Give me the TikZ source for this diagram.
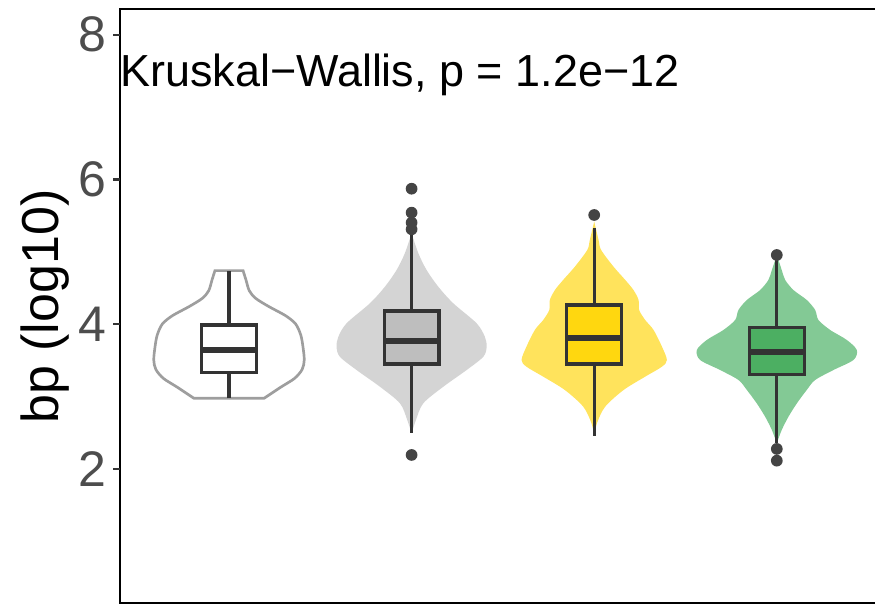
\documentclass[tikz,border=0pt]{standalone}
\usepackage{fontspec}
\setmainfont{Liberation Sans}

\definecolor{boxline}{HTML}{333333}
\definecolor{outlr}{HTML}{444444}
\definecolor{ticklab}{HTML}{4D4D4D}
\definecolor{violwhite}{HTML}{9E9E9E}
\definecolor{violgray}{HTML}{D4D4D4}
\definecolor{boxgray}{HTML}{BEBEBE}
\definecolor{violgold}{HTML}{FFE35C}
\definecolor{boxgold}{HTML}{FFD70F}
\definecolor{violgreen}{HTML}{83C995}
\definecolor{boxgreen}{HTML}{4CAF62}

\tikzset{
  whisk/.style={draw=boxline,line width=2.3pt},
  boxbody/.style={draw=boxline,line width=2.4pt},
  medline/.style={draw=boxline,line width=4.3pt},
  outlier/.style={fill=outlr},
  tickmk/.style={draw=boxline,line width=1.7pt},
  ticklbl/.style={text=ticklab,inner sep=0pt,font=\fontsize{37.5}{40}\selectfont},
}

% x, lower whisker, q1, median, q3, upper whisker, box fill
\newcommand{\boxplt}[7]{
  \draw[whisk] (#1,#2) -- (#1,#3);
  \draw[whisk] (#1,#5) -- (#1,#6);
  \filldraw[boxbody,fill=#7] (#1-0.15,#3) rectangle (#1+0.15,#5);
  \draw[medline] (#1-0.15,#4) -- (#1+0.15,#4);
}

\begin{document}
\begin{tikzpicture}
[x=136.95pt,y=54.26pt]
\useasboundingbox (-0.2541,0.1175) rectangle (4.5378,8.4796);

% panel
\draw[line width=1.9pt] (4.5378,8.356) -- (0.403,8.356) -- (0.403,0.145) -- (4.5378,0.145);

\foreach \v in {2,4,6,8}
{
  \draw[tickmk] (0.365,\v) -- (0.403,\v);
  \node[ticklbl,anchor=east] (tick\v) at (0.332,\v) {\v};
}

\node[rotate=90,inner sep=0pt,font=\fontsize{39}{42}\selectfont] (ylab) at (-0.008,4.243) {bp (log10)};
\node[anchor=base west,inner sep=0pt,font=\fontsize{33.7}{38}\selectfont] (kwtest) at (0.403,7.277) {Kruskal−Wallis, p = 1.2e−12};

% violins
\begin{scope}[shift={(1,0)}]
\foreach \s in {1,-1}
  \draw[violwhite,line width=2pt,xscale=\s] (0,4.739) -- plot[smooth] coordinates {(0.077,4.739) (0.093,4.610) (0.111,4.462)
    (0.146,4.356) (0.219,4.241) (0.310,4.116) (0.365,4.001) (0.393,3.849) (0.405,3.688) (0.412,3.504)
    (0.401,3.375) (0.360,3.251) (0.283,3.127) (0.192,2.974)} -- (0,2.974);
\end{scope}

\begin{scope}[shift={(2,0)}]
\foreach \s in {1,-1}
  \fill[violgray,xscale=\s] plot[smooth] coordinates {(0,5.255) (0.037,4.979) (0.082,4.748) (0.146,4.517)
    (0.228,4.288) (0.356,4.011) (0.401,3.826) (0.411,3.688) (0.393,3.549) (0.301,3.364) (0.174,3.135)
    (0.064,2.905) (0.024,2.675) (0,2.491)};
\end{scope}

\begin{scope}[shift={(3,0)}]
\foreach \s in {1,-1}
  \fill[violgold,xscale=\s] plot[smooth] coordinates {(0,5.416) (0.024,5.162) (0.038,5.024) (0.106,4.793)
    (0.170,4.610) (0.215,4.471) (0.243,4.333) (0.246,4.195) (0.279,4.057) (0.325,3.919) (0.371,3.688)
    (0.398,3.504) (0.371,3.411) (0.279,3.273) (0.161,3.089) (0.060,2.858) (0.015,2.629) (0,2.453)};
\end{scope}

\begin{scope}[shift={(4,0)}]
\foreach \s in {1,-1}
  \fill[violgreen,xscale=\s] plot[smooth] coordinates {(0,4.955) (0.027,4.748) (0.046,4.610) (0.091,4.471)
    (0.164,4.333) (0.210,4.195) (0.228,4.057) (0.292,3.919) (0.383,3.781) (0.438,3.642) (0.420,3.504)
    (0.311,3.366) (0.210,3.227) (0.164,3.089) (0.110,2.905) (0.064,2.720) (0.027,2.536) (0,2.352)};
\end{scope}

% boxes
\boxplt{1}{2.974}{3.328}{3.642}{3.988}{4.738}{white}
\boxplt{2}{2.495}{3.448}{3.771}{4.181}{5.259}{boxgray}
\boxplt{3}{2.453}{3.448}{3.812}{4.264}{5.324}{boxgold}
\boxplt{4}{2.352}{3.306}{3.610}{3.950}{4.932}{boxgreen}

% outliers
\foreach \x/\y in {2/5.871,2/5.540,2/5.402,2/5.310,2/2.191,3/5.508,4/4.955,4/2.274,4/2.112}
  \fill[outlier] (\x,\y) circle[radius=4.4pt];
\end{tikzpicture}
\end{document}
